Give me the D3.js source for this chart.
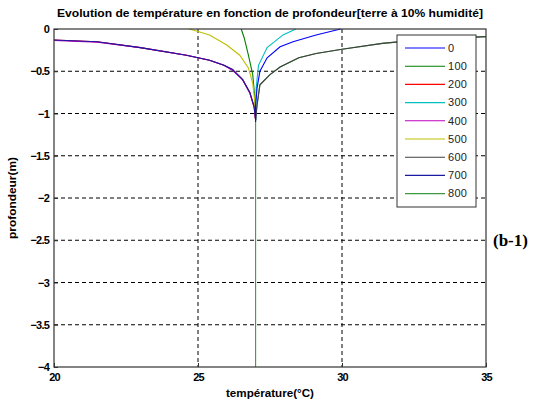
<!DOCTYPE html>
<html>
<head>
<meta charset="utf-8">
<script src="https://cdn.jsdelivr.net/npm/d3@7"></script>
<style>
  body { margin: 0; background: #fff; }
</style>
</head>
<body>
<div id="chart"></div>
<script>
// tick values
const xTicks = [20, 25, 30, 35];
const yTicks = [0, -0.5, -1, -1.5, -2, -2.5, -3, -3.5, -4];

// legend labels and colours (Matlab default cycle)
const labels = ["0", "100", "200", "300", "400", "500", "600", "700", "800"];
const colors = ["#0000ff", "#008000", "#ff0000", "#00bfbf", "#bf00bf", "#bfbf00", "#404040", "#1a1aa0", "#3f9a3f"];

// [temperature, depth] pairs
const s0 = [[29.95, 0], [29.1, -0.07], [28.3, -0.15], [27.85, -0.21], [27.4, -0.34], [27.15, -0.5], [27.05, -0.7], [27.0, -0.9], [27.0, -1.1]];
const s100 = [[26.5, 0], [26.6, -0.1], [26.75, -0.31], [26.9, -0.54], [26.97, -0.8], [27.0, -1.08]];
const s200 = [[20, -0.13], [21.5, -0.15], [23.0, -0.22], [24.6, -0.31], [25.4, -0.37], [25.9, -0.43], [26.2, -0.48], [26.55, -0.6], [26.8, -0.75], [26.95, -0.92], [27.0, -1.08]];
const s300 = [[28.4, 0], [27.95, -0.07], [27.4, -0.22], [27.1, -0.43], [27.02, -0.7], [27.0, -1.08]];
const s400 = [[20, -0.135], [21.5, -0.155], [23.0, -0.22], [24.6, -0.31], [25.4, -0.37], [25.9, -0.43], [26.2, -0.49], [26.55, -0.6], [26.8, -0.76], [26.95, -0.93], [27.0, -1.08]];
const s500 = [[24.7, 0], [25.0, -0.03], [25.4, -0.07], [26.0, -0.19], [26.45, -0.31], [26.75, -0.46], [26.9, -0.64], [26.97, -0.85], [27.0, -1.08]];
const s600 = [[27.0, -1.08], [27.05, -0.9], [27.15, -0.66], [27.5, -0.54], [27.85, -0.45], [28.5, -0.34], [29.1, -0.29], [30.0, -0.24], [31.4, -0.17], [33.0, -0.12], [35.0, -0.09]];
const s700 = [[20, -0.13], [21.5, -0.15], [23.0, -0.22], [24.6, -0.31], [25.4, -0.37], [25.9, -0.43], [26.2, -0.48], [26.55, -0.6], [26.8, -0.75], [26.95, -0.92], [27.0, -1.08]];
const s800 = [[35.0, -0.09], [33.0, -0.12], [31.4, -0.17], [30.0, -0.24], [29.1, -0.29], [28.5, -0.34], [27.85, -0.45], [27.5, -0.54], [27.15, -0.66], [27.05, -0.9], [27.0, -1.08], [27.0, -4]];

const seriesData = [s0, s100, s200, s300, s400, s500, s600, s700, s800];
// drawing order so the dark curves sit on top as in the picture
const drawOrder = [1, 2, 3, 4, 5, 8, 7, 6, 0];

const width = 553, height = 403;
const margin = { top: 29, right: 67, bottom: 36, left: 54 };
const sans = "Liberation Sans, Arial, sans-serif";

const svg = d3.select("#chart").append("svg")
    .attr("width", width)
    .attr("height", height)
    .style("font-family", sans);

svg.append("rect").attr("width", width).attr("height", height).attr("fill", "#fff");

const x = d3.scaleLinear().domain([20, 35]).range([margin.left, width - margin.right]);
const y = d3.scaleLinear().domain([-4, 0]).range([height - margin.bottom, margin.top]);

// grid
svg.append("g")
    .selectAll("line")
    .data(xTicks.slice(1, -1))
    .enter().append("line")
    .attr("x1", d => x(d)).attr("x2", d => x(d))
    .attr("y1", y(0)).attr("y2", y(-4))
    .attr("stroke", "#000").attr("stroke-dasharray", "4,3");

svg.append("g")
    .selectAll("line")
    .data(yTicks.slice(1, -1))
    .enter().append("line")
    .attr("x1", x(20)).attr("x2", x(35))
    .attr("y1", d => y(d)).attr("y2", d => y(d))
    .attr("stroke", "#000").attr("stroke-dasharray", "4,3");

// curves
const line = d3.line().x(d => x(d[0])).y(d => y(d[1]));

svg.append("g")
    .selectAll("path")
    .data(drawOrder)
    .enter().append("path")
    .attr("d", i => line(seriesData[i]))
    .attr("fill", "none")
    .attr("stroke", i => colors[i])
    .attr("stroke-width", 1.1);

// axes box
svg.append("rect")
    .attr("x", x(20)).attr("y", y(0))
    .attr("width", x(35) - x(20)).attr("height", y(-4) - y(0))
    .attr("fill", "none").attr("stroke", "#333").attr("stroke-width", 1.2);

const xAxis = svg.append("g")
    .attr("transform", `translate(0,${y(-4)})`)
    .call(d3.axisBottom(x).tickValues(xTicks).tickSize(-4).tickPadding(6).tickFormat(d3.format("d")));
const yAxis = svg.append("g")
    .attr("transform", `translate(${x(20)},0)`)
    .call(d3.axisLeft(y).tickValues(yTicks).tickSize(-4).tickPadding(5).tickFormat(d => d === 0 ? "0" : d3.format("")(d)));

[xAxis, yAxis].forEach(a => {
    a.select(".domain").remove();
    a.selectAll(".tick line").attr("stroke", "#333");
    a.selectAll(".tick text")
        .style("font-family", sans)
        .style("font-size", "11px")
        .style("font-weight", "bold")
        .attr("letter-spacing", "-0.8px")
        .attr("fill", "#000");
});

// title and axis labels
svg.append("text")
    .attr("x", 270).attr("y", 17)
    .attr("text-anchor", "middle")
    .attr("font-size", 11).attr("font-weight", "bold")
    .attr("textLength", 426).attr("lengthAdjust", "spacingAndGlyphs")
    .text("Evolution de température en fonction de profondeur[terre à 10% humidité]");

svg.append("text")
    .attr("x", 270).attr("y", 397)
    .attr("text-anchor", "middle")
    .attr("font-size", 10).attr("font-weight", "bold")
    .attr("textLength", 88).attr("lengthAdjust", "spacingAndGlyphs")
    .text("température(°C)");

svg.append("text")
    .attr("transform", `translate(16,${y(-2)}) rotate(-90)`)
    .attr("text-anchor", "middle")
    .attr("font-size", 10).attr("font-weight", "bold")
    .attr("textLength", 82).attr("lengthAdjust", "spacingAndGlyphs")
    .text("profondeur(m)");

// legend
const lg = svg.append("g").attr("transform", "translate(397,35)");
lg.append("rect")
    .attr("width", 79).attr("height", 172)
    .attr("fill", "#fff").attr("stroke", "#333").attr("stroke-width", 1);

const items = lg.selectAll("g.item")
    .data(labels)
    .enter().append("g")
    .attr("transform", (d, i) => `translate(0,${13 + i * 18.2})`);

items.append("line")
    .attr("x1", 8).attr("x2", 48)
    .attr("stroke", (d, i) => colors[i]).attr("stroke-width", 1.1);

items.append("text")
    .attr("x", 51).attr("dy", "0.35em")
    .attr("font-size", 11)
    .attr("letter-spacing", "0.3px")
    .attr("fill", "#222")
    .text(d => d);

// panel label
svg.append("text")
    .attr("x", 493).attr("y", 246)
    .style("font-family", "Liberation Serif, Times New Roman, serif")
    .style("font-size", "17px")
    .style("font-weight", "bold")
    .text("(b-1)");
</script>
</body>
</html>
